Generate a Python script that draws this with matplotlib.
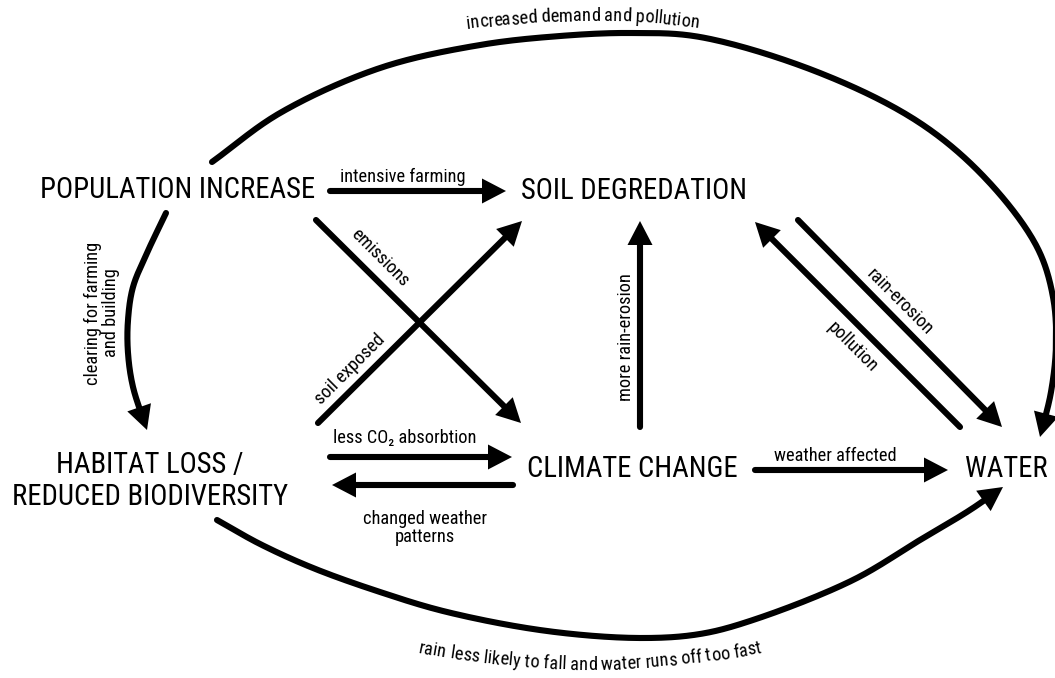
import numpy as np
import matplotlib.pyplot as plt
from matplotlib import font_manager
from matplotlib.font_manager import FontProperties
from matplotlib.patches import Polygon

# pick a condensed sans if one is around, else a plain one
available = {(f.name, f.stretch) for f in font_manager.fontManager.ttflist}
names = {n for n, _ in available}
STRETCH = 'normal'
FONT = 'Roboto'
for cand in ['Liberation Sans Narrow', 'Roboto Condensed', 'Arial Narrow',
             'Open Sans Condensed', 'Noto Sans Condensed']:
    if cand in names:
        FONT = cand
        break
else:
    if ('DejaVu Sans', 'condensed') in available or ('DejaVu Sans', 'semi-condensed') in available:
        FONT = 'DejaVu Sans'
        STRETCH = 'condensed'
FAMILY = [FONT, 'DejaVu Sans']
plt.rcParams['font.family'] = FAMILY
plt.rcParams['font.stretch'] = STRETCH

# node labels and where they sit (pixel layout, y down)
nodes = ['POPULATION INCREASE', 'SOIL DEGREDATION',
         'HABITAT LOSS /\nREDUCED BIODIVERSITY', 'CLIMATE CHANGE', 'WATER']
node_xy = [(178, 190), (634, 191), (150, 481), (632, 469), (1006, 469)]

# straight links: label, start, tip, label position, label rotation, vertical align
edge_labels = ['intensive farming', 'emissions', 'soil exposed',
               'less CO\u2082 absorbtion', 'changed weather\npatterns',
               'more rain-erosion', 'weather affected', 'pollution', 'rain-erosion']
edge_start = [(330, 191), (316, 220), (318, 423), (330, 457), (513, 485),
              (640, 427), (755, 470), (960, 427), (798, 220)]
edge_tip = [(506, 191), (521, 423), (522, 221), (512, 457), (332, 485),
            (640, 221), (948, 470), (755, 222), (1002, 427)]
label_xy = [(403, 182), (380, 258), (350, 369), (405, 443), (425, 528),
            (626, 337), (835, 461), (853, 347), (900, 302)]
label_rot = [0, -45, 45, 0, 0, 90, 0, -45, -45]
label_va = ['baseline', 'center', 'center', 'baseline', 'center',
            'center', 'baseline', 'center', 'center']

# curved links (waypoints of the stroke, last one is the arrow tip)
clearing_pts = [(166, 213), (147, 253), (133, 287), (128, 320), (128, 353),
                (133, 387), (147, 430)]
top_pts = [(212, 162), (280, 113), (380, 68), (480, 45), (560, 36), (630, 33),
           (700, 37), (820, 73), (920, 123), (987, 180), (1037, 247),
           (1053, 297), (1056, 345), (1051, 392), (1040, 437)]
bottom_pts = [(217, 520), (260, 544), (313, 568), (380, 592), (447, 612),
              (547, 631), (640, 638), (700, 634), (753, 620), (853, 580),
              (920, 540), (970, 510), (1003, 487)]

clearing_label = 'clearing for farming\nand building'
top_label = 'increased demand and pollution'
top_base = [(400, 42), (440, 33), (475, 28), (533, 23), (585, 21), (640, 22),
            (690, 27), (730, 33), (765, 41)]
bottom_label = 'rain less likely to fall and water runs off too fast'
bottom_base = [(380, 642), (420, 653), (505, 665), (590, 670), (675, 665),
               (760, 653), (800, 642)]

LW = 4.4


def text_width(s, size):
    prop = FontProperties(family=FAMILY, size=size, stretch=STRETCH)
    font = font_manager.get_font(font_manager.findfont(prop))
    font.set_size(size, 100)
    return np.array([font.load_char(ord(c)).linearHoriAdvance / 65536 for c in s])


# sizes chosen so the widths match the reference lettering
NODE_SIZE = 20 * 275 / text_width('POPULATION INCREASE', 20).sum()
LABEL_SIZE = 14 * 126 / text_width('intensive farming', 14).sum()


def catmull(pts, n=30, alpha=0.5):
    P = np.array(pts, float)
    if len(P) < 3:
        return P
    P = np.vstack([2 * P[0] - P[1], P, 2 * P[-1] - P[-2]])
    out = []
    for i in range(1, len(P) - 2):
        p0, p1, p2, p3 = P[i - 1:i + 3]
        t0 = 0.0
        t1 = t0 + np.hypot(*(p1 - p0)) ** alpha
        t2 = t1 + np.hypot(*(p2 - p1)) ** alpha
        t3 = t2 + np.hypot(*(p3 - p2)) ** alpha
        t = np.linspace(t1, t2, n, endpoint=False)[:, None]
        a1 = (t1 - t) / (t1 - t0) * p0 + (t - t0) / (t1 - t0) * p1
        a2 = (t2 - t) / (t2 - t1) * p1 + (t - t1) / (t2 - t1) * p2
        a3 = (t3 - t) / (t3 - t2) * p2 + (t - t2) / (t3 - t2) * p3
        b1 = (t2 - t) / (t2 - t0) * a1 + (t - t0) / (t2 - t0) * a2
        b2 = (t3 - t) / (t3 - t1) * a2 + (t - t1) / (t3 - t1) * a3
        out.append((t2 - t) / (t2 - t1) * b1 + (t - t1) / (t2 - t1) * b2)
    out.append(P[-2][None])
    return np.vstack(out)


def arclen(path):
    seg = np.diff(path, axis=0)
    return np.concatenate([[0], np.cumsum(np.hypot(seg[:, 0], seg[:, 1]))])


def at(path, cum, s):
    return np.array([np.interp(s, cum, path[:, 0]), np.interp(s, cum, path[:, 1])])


def draw_arrow(ax, path, hl=24, hw=12.5):
    path = np.asarray(path, float)
    cum = arclen(path)
    L = cum[-1]
    cut = L - hl * 0.8
    line = np.vstack([path[cum < cut], at(path, cum, cut)])
    ax.plot(line[:, 0], line[:, 1], color='black', lw=LW, solid_capstyle='round')
    tip = path[-1]
    base = at(path, cum, L - hl)
    u = (tip - base) / np.hypot(*(tip - base))
    nrm = np.array([-u[1], u[0]])
    ax.add_patch(Polygon([tip, base + hw * nrm, base - hw * nrm], closed=True,
                         facecolor='black', edgecolor='none'))


def text_along(ax, s, base_pts, size):
    path = catmull(base_pts, 40)
    cum = arclen(path)
    adv = text_width(s, size)
    s0 = (cum[-1] - adv.sum()) / 2
    pos = s0 + np.cumsum(adv) - adv / 2
    for c, p in zip(s, pos):
        if c == ' ':
            continue
        x, y = at(path, cum, p)
        a = at(path, cum, p - 2)
        b = at(path, cum, p + 2)
        ang = np.degrees(np.arctan2(-(b[1] - a[1]), b[0] - a[0]))
        ax.text(x, y, c, rotation=ang, rotation_mode='anchor', ha='center',
                va='baseline', fontsize=size)


fig = plt.figure(figsize=(10.55, 6.78), dpi=100)
ax = fig.add_axes([0, 0, 1, 1])
ax.set_xlim(0, 1055)
ax.set_ylim(678, 0)
ax.axis('off')

for name, (x, y) in zip(nodes, node_xy):
    ax.text(x, y, name, ha='center', va='center', fontsize=NODE_SIZE,
            linespacing=1.2, multialignment='center')

for lab, s, t, lxy, rot, va in zip(edge_labels, edge_start, edge_tip, label_xy,
                                   label_rot, label_va):
    draw_arrow(ax, [s, t])
    ax.text(lxy[0], lxy[1], lab, ha='center', va=va, rotation=rot,
            rotation_mode='anchor', fontsize=LABEL_SIZE, linespacing=1.05,
            multialignment='center')

draw_arrow(ax, catmull(clearing_pts))
ax.text(102, 313, clearing_label, ha='center', va='center', rotation=90,
        rotation_mode='anchor', fontsize=LABEL_SIZE, linespacing=1.0,
        multialignment='center')

draw_arrow(ax, catmull(top_pts))
text_along(ax, top_label, top_base, LABEL_SIZE)

draw_arrow(ax, catmull(bottom_pts))
text_along(ax, bottom_label, bottom_base, LABEL_SIZE)

fig.savefig('out.png', dpi=100, facecolor='white')
